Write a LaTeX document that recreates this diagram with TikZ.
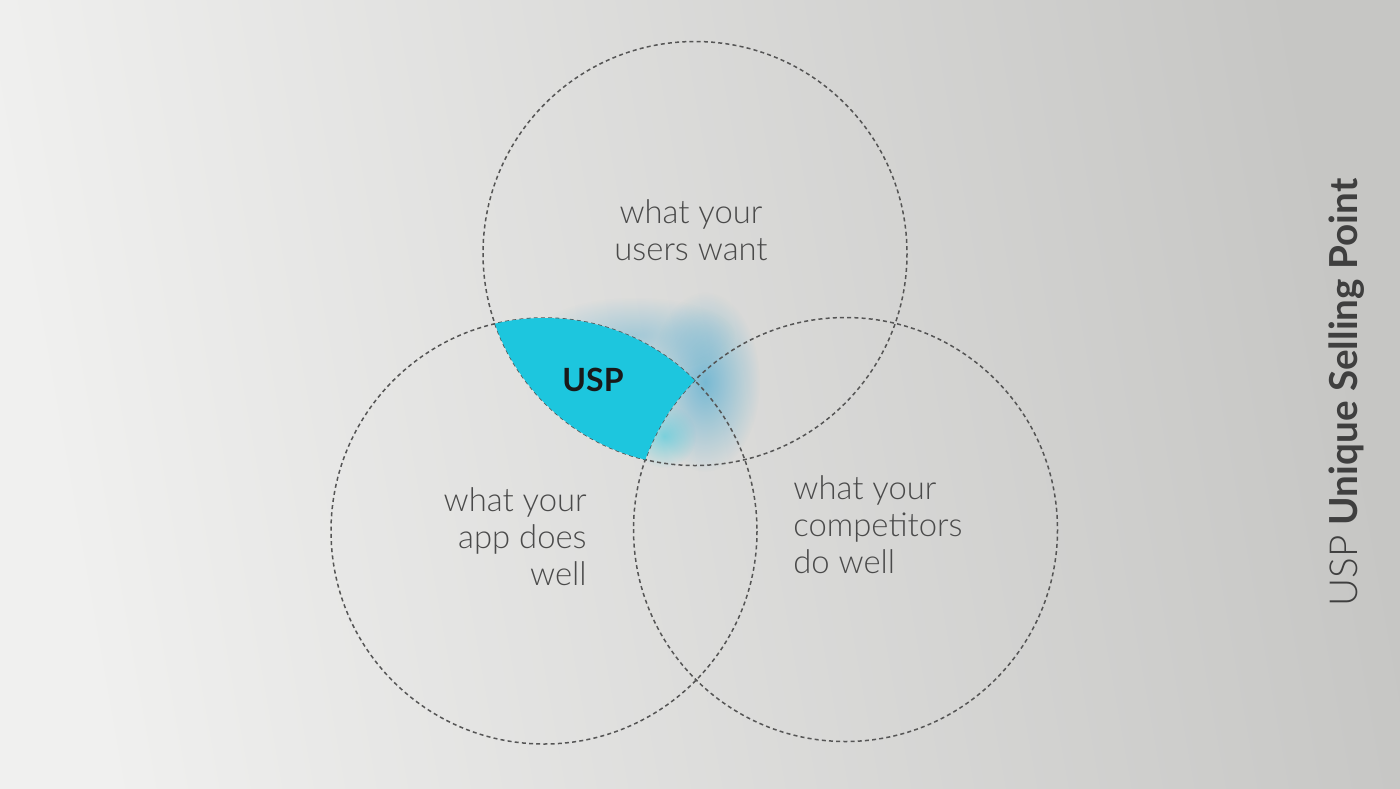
\documentclass[tikz,border=0pt]{standalone}
\usepackage{fontspec}
\setmainfont{Lato}[UprightFont={* Light}, BoldFont={* Bold}]
\usetikzlibrary{fadings}
\definecolor{bgA}{HTML}{F0F0EF}
\definecolor{bgB}{HTML}{C6C6C4}
\definecolor{usp}{HTML}{1DC6DE}
\definecolor{glow}{HTML}{3EA6D0}
\definecolor{txt}{HTML}{4A4A4A}
\definecolor{ring}{HTML}{555555}
\tikzfading[name=fuzzy, inner color=transparent!10, outer color=transparent!100]
\newcommand{\uspfill}[1]{%
  \begin{scope}
    \clip (695,253.5) circle[radius=212];
    \clip (544,531) circle[radius=213];
    \fill[#1, even odd rule] (300,0) rectangle (1000,788) (845.5,529.5) circle[radius=212];
  \end{scope}}
\begin{document}
\begin{tikzpicture}[x=0.5pt,y=-0.5pt,
  ringline/.style={draw=ring, line width=0.75pt, dash pattern=on 2pt off 1.6pt},
  blob/.style={fill=glow, path fading=fuzzy},
  lbl/.style={text=txt, font=\fontsize{16.4}{18.5}\selectfont, inner sep=0pt}]
\useasboundingbox (0,0) rectangle (1400,788);
\shade[shading=axis, left color=bgA, right color=bgB, shading angle=100] (0,0) rectangle (1400,788);
% glow
\path[blob, opacity=0.7] (705,382) ellipse [x radius=55, y radius=90];
\path[blob, opacity=0.4] (635,335) ellipse [x radius=100, y radius=38];
\path[fill=usp, path fading=fuzzy, opacity=0.55] (664,436) ellipse [x radius=32, y radius=32];
% circles
\coordinate (T) at (695,253.5);
\coordinate (L) at (544,531);
\coordinate (R) at (845.5,529.5);
\draw[ringline] (T) circle[radius=212];
\draw[ringline] (L) circle[radius=213];
\draw[ringline] (R) circle[radius=212];
\uspfill{usp}
% labels
\node[lbl, align=center] (top) at (691,230) {what your\\users want};
\node[lbl, align=right, anchor=east] (left) at (587,537) {what your\\app does\\well};
\node[lbl, align=left, anchor=west] (right) at (793,525) {what your\\competitors\\do well};
\node[text=black!90, font=\bfseries\fontsize{16}{18}\selectfont] (uspl) at (593,380) {USP};
\node[rotate=90, anchor=base west, text=txt!85!black, inner sep=0pt,
  font=\fontsize{19.3}{21}\selectfont] (title) at (1357,607) {USP \textbf{Unique Selling Point}};
\end{tikzpicture}
\end{document}
